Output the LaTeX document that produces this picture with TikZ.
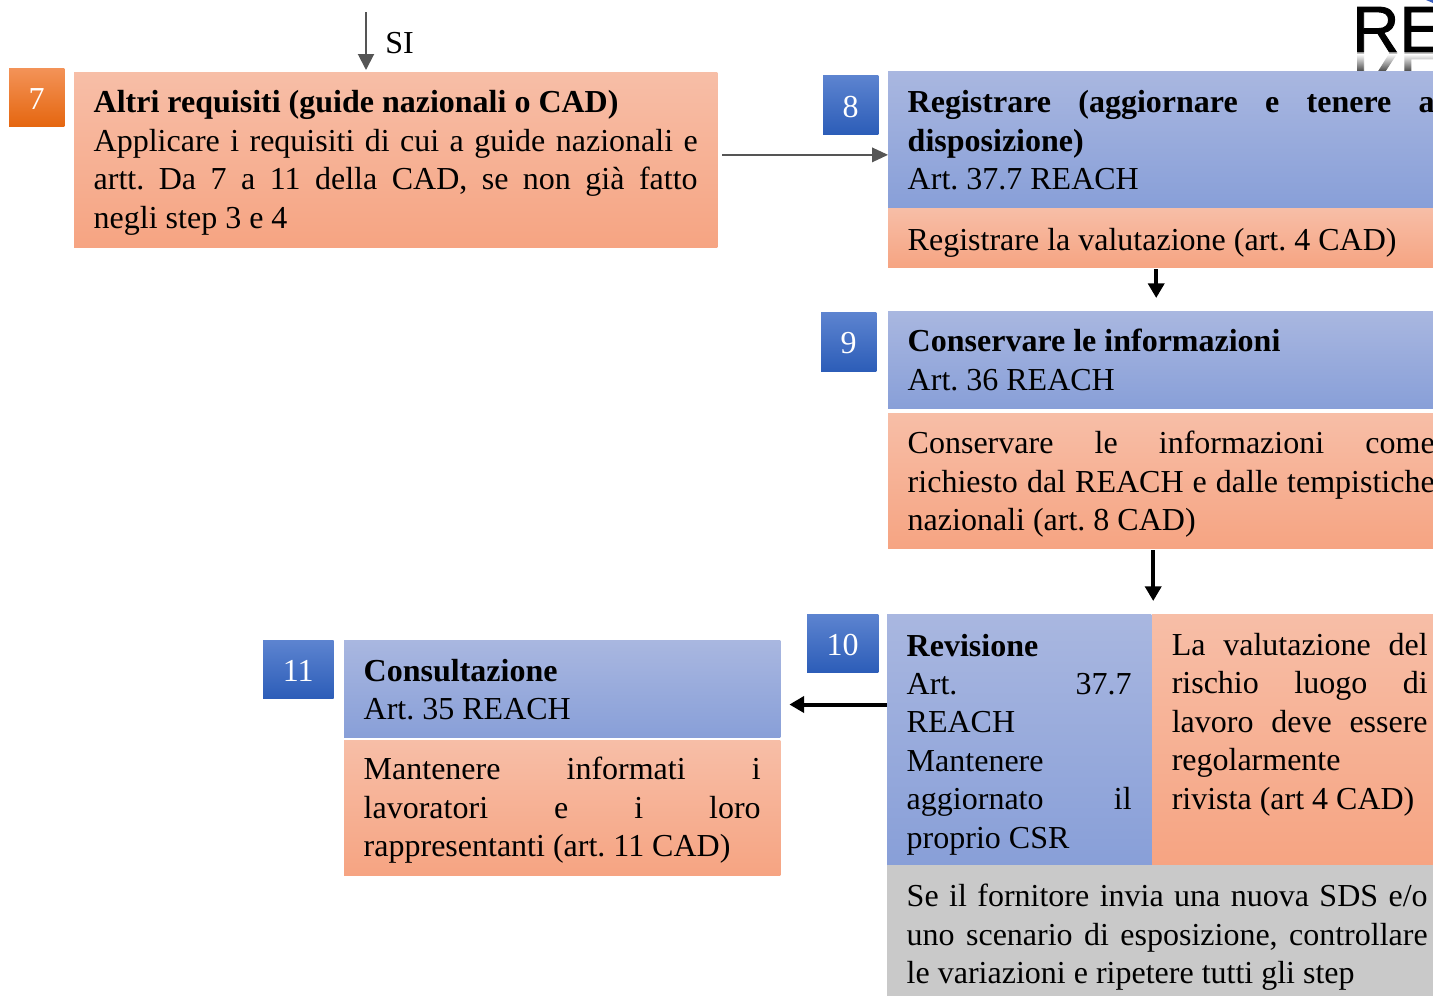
\documentclass[tikz,border=0pt]{standalone}
\usepackage{fontspec}
\setmainfont{Liberation Serif}
\newfontfamily\logofont[FakeBold=1.4]{Liberation Sans}
\usetikzlibrary{calc,arrows.meta,fadings}
\definecolor{oTop}{HTML}{F7BEA7}
\definecolor{oBot}{HTML}{F6A482}
\definecolor{bTop}{HTML}{A9B7E0}
\definecolor{bBot}{HTML}{889FD8}
\definecolor{nTop}{HTML}{5D84D0}
\definecolor{nBot}{HTML}{2C5DB8}
\definecolor{mTop}{HTML}{F39358}
\definecolor{mBot}{HTML}{E5660F}
\definecolor{greyF}{HTML}{C9C9C9}
\definecolor{arrowGrey}{HTML}{555555}
\definecolor{logoBlue}{HTML}{3A5FC0}
\newcommand{\lend}{\nobreak\hfill\null}
\newcommand{\fstrut}[1]{\rule{0pt}{\dimexpr16.5pt+#1\relax}}
\tikzset{
  x=0.75pt,y=-0.75pt,
  txt/.style={font=\fontsize{24}{28.8}\selectfont\frenchspacing},
  box/.style={txt,rectangle,anchor=north west,inner xsep=14.8pt,inner ysep=0pt,outer sep=0pt,align=justify},
  bxw/.style={text width={(#1-0.6)*0.75pt-29.6pt}},
  orangebox/.style={box,top color=oTop,bottom color=oBot},
  bluebox/.style={box,top color=bTop,bottom color=bBot},
  greybox/.style={box,fill=greyF},
  num/.style={txt,rectangle,anchor=north west,inner sep=0pt,outer sep=0pt,text=white,align=center},
  bluenum/.style={num,top color=nTop,bottom color=nBot},
  orangenum/.style={num,top color=mTop,bottom color=mBot},
  thin arrow/.style={draw=arrowGrey,line width=1pt,-{Triangle[length=12pt,width=11pt]}},
  thick arrow/.style={draw=black,line width=3pt,-{Triangle[length=11pt,width=12pt]}},
  mid arrow/.style={draw=arrowGrey,line width=1.5pt,-{Triangle[length=12pt,width=12pt]}},
  logotext/.style={font=\logofont\fontsize{49}{49}\selectfont,anchor=base west,inner sep=0pt}
}
\begin{document}
\begin{tikzpicture}
\clip (0,0) rectangle (1433,996);
% logo
\node[logotext] (logo) at (1352,52) {RE};
\node[logotext,text=black!70,yscale=-1] (logor) at (1352,54) {RE};
\fill[white,path fading=south] (1340,54) rectangle (1433,71);
\fill[white] (1340,71) rectangle (1433,100);
\fill[logoBlue] (1426,0) -- (1433,0) -- (1433,3) -- cycle;
% box 7
\node[orangenum,minimum width=41.6pt,minimum height=44pt] (n7) at (9,68) {\fstrut{2pt}7};
\node[orangebox,bxw=644,minimum height=131.8pt] (b7) at (74,72) {\fstrut{4.5pt}\textbf{Altri requisiti (guide nazionali o CAD)}\lend\linebreak
Applicare i requisiti di cui a guide nazionali e\linebreak artt. Da 7 a 11 della CAD, se non già fatto\linebreak negli step 3 e 4\lend};
\coordinate (siTop) at (366,12);
\node[txt,anchor=base west,inner sep=0pt] (si) at (385,53) {SI};
% box 8
\node[bluenum,minimum width=41.6pt,minimum height=44.6pt] (n8) at (823,75) {\fstrut{3pt}8};
\node[bluebox,bxw=567,minimum height=102.75pt] (b8a) at (888,71) {\fstrut{1.5pt}\textbf{Registrare (aggiornare e tenere a}\linebreak \textbf{disposizione)}\lend\linebreak Art. 37.7 REACH\lend};
\node[orangebox,bxw=567,minimum height=44.6pt] (b8o) at (888,208) {\fstrut{7.5pt}Registrare la valutazione (art. 4 CAD)\lend};
% box 9
\node[bluenum,minimum width=41.6pt,minimum height=44.6pt] (n9) at (821,312) {\fstrut{2pt}9};
\node[bluebox,bxw=567,minimum height=73.2pt] (b9a) at (888,311) {\textbf{Conservare le informazioni}\lend\linebreak Art. 36 REACH\lend};
\node[orangebox,bxw=567,minimum height=101.6pt] (b9o) at (888,413) {\fstrut{6pt}Conservare le informazioni come\linebreak richiesto dal REACH e dalle tempistiche\linebreak nazionali (art. 8 CAD)\lend};
% box 10
\node[bluenum,minimum width=53.6pt,minimum height=44pt] (n10) at (807,614) {\fstrut{2pt}10};
\node[bluebox,bxw=265,minimum height=188.25pt] (b10a) at (887,614) {\fstrut{7.5pt}\textbf{Revisione}\lend\linebreak Art. 37.7\linebreak REACH\lend\linebreak Mantenere\lend\linebreak aggiornato il\linebreak proprio CSR\lend};
\node[orangebox,bxw=296,minimum height=188.25pt] (b10o) at (1152,614) {\fstrut{1.5pt}La valutazione del\linebreak rischio luogo di\linebreak lavoro deve essere\linebreak regolarmente\lend\linebreak rivista (art 4 CAD)\lend\linebreak \null\lend};
\node[greybox,bxw=561,minimum height=98.25pt] (b10g) at (887,865) {\fstrut{10.5pt}Se il fornitore invia una nuova SDS e/o\linebreak uno scenario di esposizione, controllare\linebreak le variazioni e ripetere tutti gli step\lend};
% box 11
\node[bluenum,minimum width=53pt,minimum height=44pt] (n11) at (263,640) {\fstrut{2pt}11};
\node[bluebox,bxw=437,minimum height=73.2pt] (b11a) at (344,640) {\fstrut{1.5pt}\textbf{Consultazione}\lend\linebreak Art. 35 REACH\lend};
\node[orangebox,bxw=437,minimum height=101.6pt] (b11o) at (344,740) {\fstrut{4.5pt}Mantenere informati i\linebreak lavoratori e i loro\linebreak rappresentanti (art. 11 CAD)\lend};
% connectors
\draw[mid arrow] (siTop) -- ($(siTop |- b7.north)+(0,-2)$);
\draw[thin arrow,shorten <=3.75pt] ($(b7.east)+(0,-5)$) -- ($(b7.east -| b8a.west)+(0,-5)$);
\draw[thick arrow] ($(b8o.south)+(-15,2)$) -- ($(b9a.north)+(-15,-13)$);
\draw[thick arrow] ($(b9o.south)+(-18,2)$) -- ($(b10a.north -| b9o.south)+(-18,-13)$);
\draw[thick arrow] ($(b10a.west)+(0,-35)$) -- ($(b11a.east |- b10a.west)+(9,-35)$);
\end{tikzpicture}
\end{document}
